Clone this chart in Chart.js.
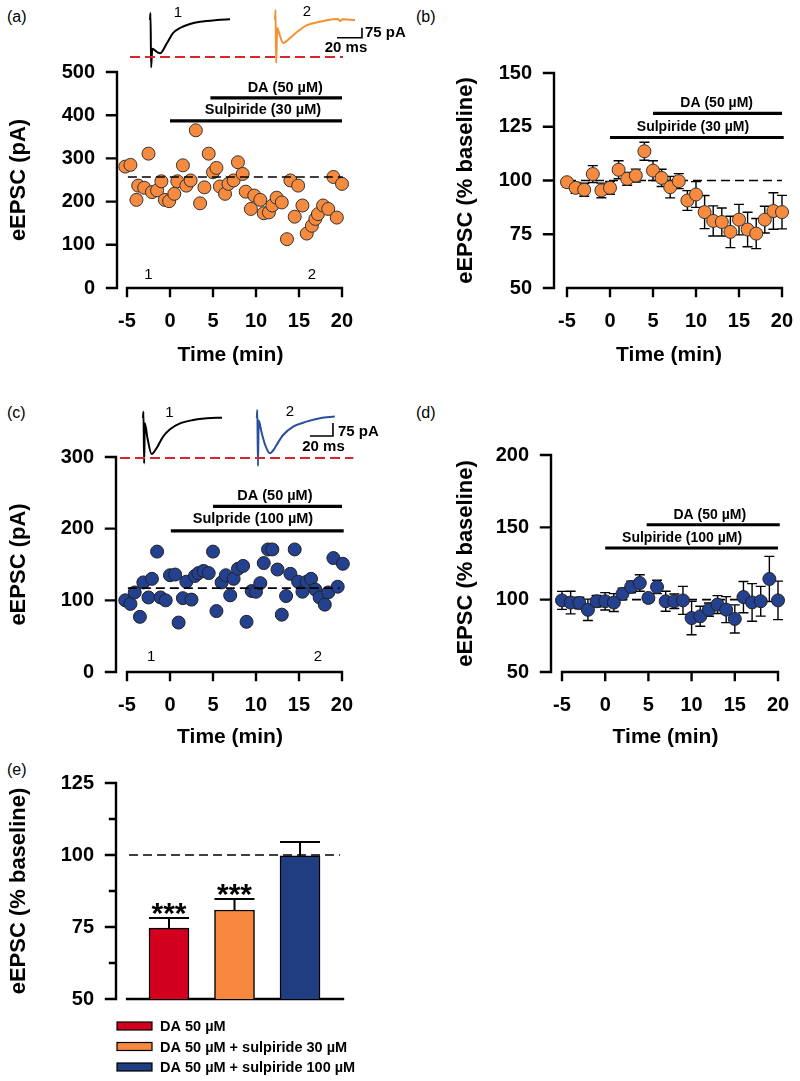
<!DOCTYPE html>
<html><head><meta charset="utf-8">
<script src="https://cdn.jsdelivr.net/npm/chart.js@4.4.1/dist/chart.umd.min.js"></script>
<style>
html,body{margin:0;padding:0;background:#fff;}
#wrap{position:relative;width:800px;height:1081px;overflow:hidden;background:#fff;}
canvas.layer{position:absolute;left:0;top:0;}
.plabel{position:absolute;font-family:"Liberation Sans",Arial,sans-serif;font-size:16px;color:#000;line-height:16px;}
</style></head><body>
<div id="wrap">
  <div class="plabel" style="left:7px;top:9px">(a)</div>
  <div class="plabel" style="left:416px;top:9px">(b)</div>
  <div class="plabel" style="left:7px;top:405px">(c)</div>
  <div class="plabel" style="left:416px;top:405px">(d)</div>
  <div class="plabel" style="left:7px;top:762px">(e)</div>
</div>
<script>
// ---------------- DATA ----------------
// (a) single cell, sulpiride 30 µM: time (min) and eEPSC amplitude (pA)
const timeA = [-5.2,-4.6,-3.9,-3.7,-3.0,-2.5,-2.1,-1.5,-1.0,-0.6,-0.1,0.5,0.85,1.5,1.9,2.4,3.0,3.5,4.0,4.5,5.0,5.4,5.8,6.4,6.8,7.4,7.9,8.45,8.8,9.4,9.8,10.5,10.9,11.5,11.9,12.4,13.0,13.6,14.0,14.5,14.9,15.4,15.9,16.5,16.9,17.2,17.8,18.4,19.0,19.4,20.0];
const epscA = [281,285,204,237,232,311,222,226,247,204,201,218,247,284,237,249,365,196,233,311,268,278,235,218,241,249,291,264,223,183,214,204,173,175,191,209,198,113,249,165,237,191,126,144,160,171,191,183,257,163,241];
const baselineA = 257;
// (b) group mean, sulpiride 30 µM (% baseline)
const timeGroup = [-5,-4,-3,-2,-1,0,1,2,3,4,5,6,7,8,9,10,11,12,13,14,15,16,17,18,19,20];
const normB = [99.2,96.6,95.7,103,95.4,96.6,105,100.8,102.3,113.6,104.6,101.2,96.9,99.7,90.7,93.5,85.3,81.2,80.7,76.1,81.8,77.2,75.3,81.8,85.8,85.3];
const semB  = [2,2.5,3,3.9,3.4,3,4.2,3,3,4.2,4.6,4,5,3.5,4.6,6,7.7,7,6.5,7.3,7.1,8,7,6.2,8.5,7.8];
// (c) single cell, sulpiride 100 µM
const timeC = [-5.2,-4.6,-4.1,-3.5,-3.1,-2.5,-2.1,-1.5,-1.1,-0.5,0,0.6,1.0,1.5,1.9,2.5,2.9,3.3,3.9,4.5,5.0,5.4,6.0,6.5,7.0,7.4,7.9,8.5,8.9,9.5,10.0,10.5,10.9,11.4,11.9,12.5,13.0,13.5,14.0,14.5,14.9,15.4,15.9,16.4,16.9,17.4,18.0,18.4,19.0,19.5,20.1];
const epscC = [100,95,111,77,125,104,130,168,104,100,135,136,69,103,126,101,134,138,141,138,168,85,125,135,107,130,144,148,70,113,112,124,152,171,171,143,80,106,137,171,126,112,126,130,115,104,94,111,159,119,151];
const baselineC = 117;
// (d) group mean, sulpiride 100 µM
const normD = [99.5,98,97.7,93,98.9,98.9,98,104,108.8,111.5,101.2,108.8,98.9,98.9,99.5,87.3,88.5,93.1,96.6,93.1,86.7,101.8,98.1,98.9,114.3,99.5];
const semD  = [6.2,7.8,4,7.4,4,6,6.2,4,4,5.7,3,4.6,6.9,5,9.7,11.5,6.9,4.6,6.2,9,9.7,10.8,13,10.3,15.6,13.3];
// (e) summary
const groupsE = ['DA 50 µM','DA 50 µM + sulpiride 30 µM','DA 50 µM + sulpiride 100 µM'];
const meanE = [74.6,80.9,99.7];
const semE  = [3.5,3.8,4.8];
const sigE  = ['***','***',''];
// drug application periods [start, end] (min)
const sulpPeriod = [0,20];
const daPeriod = [5,20];
// tick labels
const timeTicks = [-5,0,5,10,15,20];
const ticksA = [0,100,200,300,400,500];
const ticksB = [50,75,100,125,150];
const ticksC = [0,100,200,300];
const ticksD = [50,100,150,200];
const ticksE = [50,62.5,75,87.5,100,112.5,125];
// example traces (ms, pA)
const trA1t = [0,0.4,0.9,1.8,5.6,8,13.6,18.4,24,32,40,53.6,64];
const trA1i = [0,52,-355,-215,-240,-250,-173,-98,-60,-30,-13,0,5];
const trA2t = [0,0.4,0.9,1.8,4,6.4,9,12,17.6,25.6,36,46.4,50.4,52,54,64];
const trA2i = [0,75,-323,-60,-120,-172,-160,-135,-90,-38,-13,5,8,-8,6,0];
const trC1t = [0,0.4,1.0,1.6,4,7.5,11.9,17.4,23.5,32.2,43.5,55.7,68.7];
const trC1i = [0,36,-262,-30,-120,-208,-173,-108,-65,-31,-12,-2,2];
const trC2t = [0,0.4,1.0,1.6,4,7.5,11.3,15,17.1,22.9,31.6,43.2,54.8,67.8];
const trC2i = [0,46,-277,-15,-80,-160,-204,-180,-156,-98,-50,-21,-2,8];

// ---------------- STYLE ----------------
const FONT = '"Liberation Sans", Arial, Helvetica, sans-serif';
const ORANGE = '#f68a3e', BLUE = '#23418f', RED = '#d2001e';
const barColors = ['#d2001e','#f8873f','#1f3d80'];
Chart.defaults.font.family = FONT;
Chart.defaults.color = '#000';

const wrap = document.getElementById('wrap');
function layer(){
  const c = document.createElement('canvas');
  c.width = 800; c.height = 1081; c.className = 'layer';
  wrap.appendChild(c);
  return c.getContext('2d');
}
const pts = (xs, ys) => xs.map((x,i)=>({x, y: ys[i]}));
const seg = (x0,x1,y) => [{x:x0,y},{x:x1,y}];

function deco(o){
  return {
    id: 'deco',
    beforeDatasetsDraw(chart){
      const ctx = chart.ctx, xs = chart.scales.x, ys = chart.scales.y, ca = chart.chartArea;
      ctx.save();
      if (o.axes){
        ctx.strokeStyle = '#000'; ctx.lineWidth = 2.4; ctx.lineCap = 'square';
        const yTop = ys.getPixelForValue(ys.max), yBot = ys.getPixelForValue(ys.min);
        const ax = ca.left;
        ctx.beginPath();
        ctx.moveTo(ax, yTop); ctx.lineTo(ax, yBot);
        for (const t of ys.ticks){
          const p = ys.getPixelForValue(t.value);
          const len = (t.value % 25 !== 0 && o.axes.minor) ? 6 : 10;
          ctx.moveTo(ax, p); ctx.lineTo(ax - len, p);
        }
        const ay = ca.bottom;
        ctx.moveTo(xs.getPixelForValue(o.axes.xFrom), ay);
        ctx.lineTo(xs.getPixelForValue(o.axes.xTo), ay);
        if (o.axes.xTicks){
          for (const t of xs.ticks){
            const p = xs.getPixelForValue(t.value);
            ctx.moveTo(p, ay); ctx.lineTo(p, ay + 8);
          }
        }
        ctx.stroke();
      }
      if (o.err){
        const meta = chart.getDatasetMeta(o.err.index);
        const data = chart.data.datasets[o.err.index].data;
        ctx.strokeStyle = '#000'; ctx.lineWidth = 1.4; ctx.lineCap = 'butt';
        ctx.beginPath();
        meta.data.forEach((el,i)=>{
          const v = data[i].y, e = o.err.sem[i];
          const hi = ys.getPixelForValue(v+e), lo = ys.getPixelForValue(v-e);
          ctx.moveTo(el.x, hi); ctx.lineTo(el.x, lo);
          ctx.moveTo(el.x-5, hi); ctx.lineTo(el.x+5, hi);
          ctx.moveTo(el.x-5, lo); ctx.lineTo(el.x+5, lo);
        });
        ctx.stroke();
      }
      ctx.restore();
    },
    afterDatasetsDraw(chart){
      const ctx = chart.ctx, xs = chart.scales.x, ys = chart.scales.y;
      ctx.save();
      if (o.barErr){
        const meta = chart.getDatasetMeta(o.barErr.index);
        ctx.strokeStyle = '#000'; ctx.lineWidth = 2; ctx.lineCap = 'butt';
        meta.data.forEach((el,i)=>{
          const top = ys.getPixelForValue(o.barErr.mean[i] + o.barErr.sem[i]);
          ctx.beginPath();
          ctx.moveTo(el.x, el.y); ctx.lineTo(el.x, top);
          ctx.moveTo(el.x - el.width/2, top); ctx.lineTo(el.x + el.width/2, top);
          ctx.stroke();
          if (o.barErr.sig[i]){
            ctx.font = 'bold 30px ' + FONT; ctx.fillStyle = '#000';
            ctx.textAlign = 'center'; ctx.textBaseline = 'middle';
            ctx.fillText(o.barErr.sig[i], el.x, top - 3);
          }
        });
      }
      if (o.texts){
        for (const t of o.texts){
          ctx.font = (t.weight||'bold') + ' ' + (t.size||14) + 'px ' + FONT;
          ctx.fillStyle = t.color || '#000';
          ctx.textAlign = t.align || 'center'; ctx.textBaseline = 'middle';
          ctx.fillText(t.text, xs.getPixelForValue(t.x), ys.getPixelForValue(t.y));
        }
      }
      if (o.legend){
        const L = o.legend;
        L.labels.forEach((lab,i)=>{
          const y = L.y0 + i*L.dy;
          ctx.fillStyle = L.colors[i];
          ctx.fillRect(L.x, y-4, 35, 8);
          ctx.strokeStyle = '#000'; ctx.lineWidth = 1.2;
          ctx.strokeRect(L.x, y-4, 35, 8);
          ctx.fillStyle = '#000';
          ctx.font = 'bold 14.5px ' + FONT;
          ctx.textAlign = 'left'; ctx.textBaseline = 'middle';
          ctx.fillText(lab, L.x + 43, y+1);
        });
      }
      ctx.restore();
    }
  };
}

function axisChart(o){
  const W = o.area.l - o.yTitleX + 13.2;
  const H = o.xTitleY ? (o.xTitleY - o.area.b + 12.6) : 0;
  return new Chart(layer(), {
    type: o.type || 'scatter',
    data: { datasets: o.datasets },
    options: {
      responsive:false, devicePixelRatio:1, animation:false, events:[],
      layout:{ autoPadding:false, padding:{ left:o.area.l - W, top:o.area.t, right:800 - o.area.r, bottom:1081 - o.area.b - H } },
      plugins:{ legend:{display:false}, tooltip:{enabled:false} },
      scales:{
        x:{ type:'linear', min:o.xr[0], max:o.xr[1],
            grid:{display:false, drawTicks:false}, border:{display:false},
            ticks:{ display: !!o.xTicks, padding:21, font:{size:20, weight:'bold'}, color:'#000' },
            afterBuildTicks: s => { s.ticks = (o.xTicks||[]).map(v=>({value:v})); },
            afterFit: s => { s.height = H; s.paddingLeft = 0; s.paddingRight = 0; },
            title:{ display: !!o.xTitleY, text:'Time (min)', font:{size:21, weight:'bold'}, padding:0, color:'#000' } },
        y:{ type:'linear', min:o.yr[0], max:o.yr[1],
            grid:{display:false, drawTicks:false}, border:{display:false},
            ticks:{ padding:22, font:{size:20, weight:'bold'}, color:'#000',
                    callback: v => (v % 25 === 0 ? String(v) : '') },
            afterBuildTicks: s => { s.ticks = o.yTicks.map(v=>({value:v})); },
            afterFit: s => { s.width = W; s.paddingTop = 0; s.paddingBottom = 0; },
            title:{ display:true, text:o.yTitle, font:{size:22, weight:'bold'}, padding:0, color:'#000' } }
      }
    },
    plugins:[deco(o)]
  });
}

function traceChart(o){
  return new Chart(layer(), {
    type:'scatter',
    data:{ datasets:o.datasets },
    options:{
      responsive:false, devicePixelRatio:1, animation:false, events:[],
      layout:{ autoPadding:false, padding:{ left:o.area.l, top:o.area.t, right:800-o.area.r, bottom:1081-o.area.b } },
      plugins:{ legend:{display:false}, tooltip:{enabled:false} },
      scales:{ x:{type:'linear', display:false, min:o.xr[0], max:o.xr[1]},
               y:{type:'linear', display:false, min:o.yr[0], max:o.yr[1]} }
    },
    plugins:[deco(o)]
  });
}

const lineDs = (data, color, width, dash, order) => ({ data, showLine:true, borderColor:color, borderWidth:width, borderDash:dash||[], pointRadius:0, order:order||0, clip:false });
const traceDs = (t, i, off, color) => ({ data: t.map((x,k)=>({x:x+off, y:i[k]})), showLine:true, borderColor:color, borderWidth:2, pointRadius:0, cubicInterpolationMode:'monotone', clip:false });

// ---------------- (a) ----------------
axisChart({
  area:{l:117, t:72, r:344, b:288}, xr:[-6.163, 20.233], yr:[0,500],
  xTicks:timeTicks, yTicks:ticksA, yTitle:'eEPSC (pA)', yTitleX:19, xTitleY:355,
  axes:{xFrom:-5, xTo:20, xTicks:true},
  datasets:[
    lineDs(seg(-4.9, 20.1, baselineA), '#000', 1.6, [9,5], 0),
    { data: pts(timeA, epscA), pointRadius:6.5, pointBackgroundColor:ORANGE, pointBorderColor:'#333', pointBorderWidth:1, showLine:false, order:1, clip:false },
    lineDs(seg(sulpPeriod[0], sulpPeriod[1], 387), '#000', 3.2, null, 2),
    lineDs(seg(4.7, daPeriod[1], 440), '#000', 3.2, null, 2)
  ],
  texts:[
    {x:13.4, y:463, text:'DA (50 µM)', size:14.5},
    {x:10.8, y:412, text:'Sulpiride (30 µM)', size:14.5},
    {x:-2.5, y:30, text:'1', size:15, weight:'normal'},
    {x:16.5, y:30, text:'2', size:15, weight:'normal'}
  ]
});
traceChart({
  area:{l:120, t:0, r:420, b:80}, xr:[-24,216], yr:[-450,150],
  datasets:[
    lineDs(seg(-16, 154.4, -277.5), '#d8262e', 2, [10,5]),
    traceDs(trA1t, trA1i, 0, '#000'),
    traceDs(trA2t, trA2i, 100, '#f39232'),
    lineDs([{x:149.6,y:-133},{x:169.6,y:-133},{x:169.6,y:-58}], '#000', 1.6)
  ],
  texts:[
    {x:22.4, y:52, text:'1', size:15, weight:'normal'},
    {x:125.6, y:60, text:'2', size:15, weight:'normal'},
    {x:172, y:-100, text:'75 pA', size:15, align:'left'},
    {x:156.8, y:-210, text:'20 ms', size:15}
  ]
});

// ---------------- (b) ----------------
axisChart({
  area:{l:554, t:73, r:784, b:288}, xr:[-6.512, 20.233], yr:[50,150],
  xTicks:timeTicks, yTicks:ticksB, yTitle:'eEPSC (% baseline)', yTitleX:466, xTitleY:355,
  axes:{xFrom:-5, xTo:20, xTicks:true},
  err:{index:0, sem:semB},
  datasets:[
    { data: pts(timeGroup, normB), pointRadius:6.5, pointBackgroundColor:ORANGE, pointBorderColor:'#333', pointBorderWidth:1, showLine:false, order:0, clip:false },
    lineDs(seg(-5, 20, 100), '#000', 1.6, [9,5], 1),
    lineDs(seg(sulpPeriod[0], sulpPeriod[1]+0.2, 120), '#000', 3.2, null, 2),
    lineDs(seg(daPeriod[0], daPeriod[1], 131.2), '#000', 3.2, null, 2)
  ],
  texts:[
    {x:12.4, y:136.1, text:'DA (50 µM)', size:14},
    {x:9.65, y:125, text:'Sulpiride (30 µM)', size:14}
  ]
});

// ---------------- (c) ----------------
axisChart({
  area:{l:116, t:457, r:344, b:672}, xr:[-6.279, 20.233], yr:[0,300],
  xTicks:timeTicks, yTicks:ticksC, yTitle:'eEPSC (pA)', yTitleX:19, xTitleY:737,
  axes:{xFrom:-5, xTo:20, xTicks:true},
  datasets:[
    lineDs(seg(-4.9, 19.7, baselineC), '#000', 1.6, [9,5], 0),
    { data: pts(timeC, epscC), pointRadius:6.5, pointBackgroundColor:BLUE, pointBorderColor:'#222', pointBorderWidth:1, showLine:false, order:1, clip:false },
    lineDs(seg(sulpPeriod[0]+0.1, sulpPeriod[1]+0.2, 197), '#000', 3.2, null, 2),
    lineDs(seg(daPeriod[0], daPeriod[1], 231), '#000', 3.2, null, 2)
  ],
  texts:[
    {x:12.2, y:245, text:'DA (50 µM)', size:14.5},
    {x:9.65, y:214, text:'Sulpride (100 µM)', size:14.5},
    {x:-2.2, y:21, text:'1', size:15, weight:'normal'},
    {x:17.2, y:21, text:'2', size:15, weight:'normal'}
  ]
});
traceChart({
  area:{l:110, t:395, r:410, b:475}, xr:[-28.7,232.2], yr:[-328.9,132.7],
  datasets:[
    lineDs(seg(-20, 182.9, -230.8), '#d8262e', 2, [10,5]),
    traceDs(trC1t, trC1i, 0, '#000'),
    traceDs(trC2t, trC2i, 99, '#2a4f9c'),
    lineDs([{x:145.2,y:-104},{x:165.2,y:-104},{x:165.2,y:-29}], '#000', 1.6)
  ],
  texts:[
    {x:22.9, y:31, text:'1', size:15, weight:'normal'},
    {x:127.8, y:36, text:'2', size:15, weight:'normal'},
    {x:169.6, y:-79, text:'75 pA', size:15, align:'left'},
    {x:157, y:-165.6, text:'20 ms', size:15}
  ]
});

// ---------------- (d) ----------------
axisChart({
  area:{l:551, t:455, r:780, b:672}, xr:[-6.273, 20.231], yr:[50,200],
  xTicks:timeTicks, yTicks:ticksD, yTitle:'eEPSC (% baseline)', yTitleX:466, xTitleY:737,
  axes:{xFrom:-5, xTo:20, xTicks:true},
  err:{index:0, sem:semD},
  datasets:[
    { data: pts(timeGroup, normD), pointRadius:6.5, pointBackgroundColor:BLUE, pointBorderColor:'#222', pointBorderWidth:1, showLine:false, order:0, clip:false },
    lineDs(seg(-5, 20, 100), '#000', 1.6, [9,5], 1),
    lineDs(seg(sulpPeriod[0], sulpPeriod[1], 135.7), '#000', 3.2, null, 2),
    lineDs(seg(4.8, daPeriod[1]+0.2, 151.8), '#000', 3.2, null, 2)
  ],
  texts:[
    {x:12.1, y:158.7, text:'DA (50 µM)', size:14},
    {x:8.9, y:142.8, text:'Sulpiride (100 µM)', size:14}
  ]
});

// ---------------- (e) ----------------
axisChart({
  type:'bar',
  area:{l:116, t:783, r:343, b:999}, xr:[0.191, 3.656], yr:[50,125],
  xTicks:null, yTicks:ticksE, yTitle:'eEPSC (% baseline)', yTitleX:19, xTitleY:0,
  axes:{xFrom:0.36, xTo:3.656, xTicks:false, minor:true},
  barErr:{index:1, mean:meanE, sem:semE, sig:sigE},
  legend:{x:117, y0:1026, dy:20.5, labels:groupsE, colors:barColors},
  datasets:[
    { type:'line', data: seg(0.39, 3.61, 100), borderColor:'#000', borderWidth:1.6, borderDash:[9,5], pointRadius:0, order:0, clip:false },
    { type:'bar', data: meanE.map((v,i)=>({x:i+1, y:v})), backgroundColor:barColors, borderColor:'#000', borderWidth:1.5, borderSkipped:false, barThickness:40, order:1 }
  ]
});
</script>
</body></html>
